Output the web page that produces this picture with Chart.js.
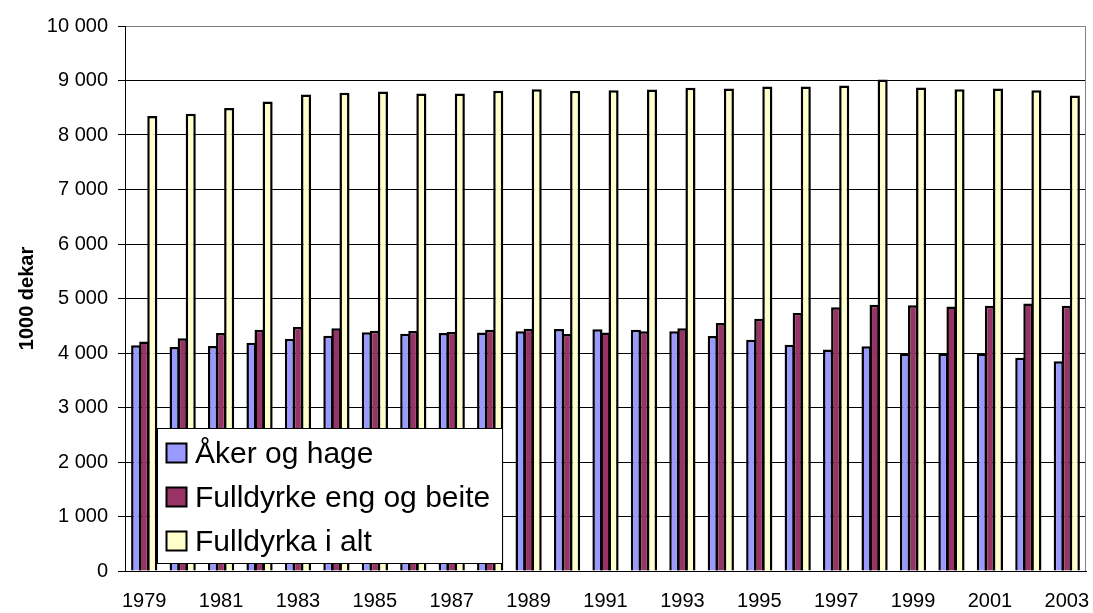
<!DOCTYPE html>
<html>
<head>
<meta charset="utf-8">
<script src="https://cdn.jsdelivr.net/npm/chart.js@4.4.1/dist/chart.umd.min.js"></script>
<style>
  html, body { margin: 0; padding: 0; background: #ffffff; }
  #wrap { width: 1093px; height: 613px; }
</style>
</head>
<body>
<div id="wrap"><canvas id="c" width="1093" height="613"></canvas></div>
<script>
// ---- data ----
const years = ['1979','1980','1981','1982','1983','1984','1985','1986','1987','1988','1989','1990','1991','1992','1993','1994','1995','1996','1997','1998','1999','2000','2001','2002','2003'];
const akerOgHage = [4140,4110,4130,4190,4260,4315,4380,4355,4365,4375,4400,4440,4435,4425,4400,4310,4245,4150,4065,4125,3990,3990,3990,3915,3850];
const fulldyrkeEngOgBeite = [4210,4270,4365,4425,4475,4455,4410,4405,4385,4425,4445,4350,4375,4400,4455,4550,4630,4735,4840,4885,4875,4855,4865,4910,4865];
const fulldyrkaIAlt = [8350,8390,8495,8615,8745,8775,8800,8760,8760,8810,8840,8810,8820,8835,8865,8855,8890,8890,8910,9020,8870,8840,8855,8820,8725];
const seriesNames = ['Åker og hage', 'Fulldyrke eng og beite', 'Fulldyrka i alt'];
const yAxisTitle = '1000 dekar';
const yMin = 0, yMax = 10000, yStep = 1000;

const FONT = "'Liberation Sans', Arial, Helvetica, sans-serif";

function fmtThousands(v) {
  return String(v).replace(/\B(?=(\d{3})+(?!\d))/g, ' ');
}

// Legend drawn inside the plot area (lower-left), opaque white box with black border
const insetLegend = {
  id: 'insetLegend',
  afterDatasetsDraw(chart, args, o) {
    const { ctx, chartArea } = chart;
    const ds = chart.data.datasets;
    ctx.save();
    ctx.font = o.fontSize + 'px ' + FONT;
    const maxW = Math.max(...ds.map(d => ctx.measureText(d.label).width));
    const w = o.textX + maxW + o.padRight;
    const h = o.firstRow + (ds.length - 1) * o.rowH + o.lastPad;
    const x0 = Math.round(chartArea.left + o.offsetLeft);
    const y0 = Math.round(chartArea.bottom - o.offsetBottom - h);
    ctx.fillStyle = '#ffffff';
    ctx.fillRect(x0, y0, Math.round(w), Math.round(h));
    ctx.strokeStyle = '#000000';
    ctx.lineWidth = 1;
    ctx.strokeRect(x0 + 0.5, y0 + 0.5, Math.round(w), Math.round(h));
    ds.forEach((d, i) => {
      const cy = y0 + o.firstRow + i * o.rowH;
      const sx = x0 + o.swatchX;
      ctx.fillStyle = d.backgroundColor;
      ctx.fillRect(sx, cy - o.swatchH / 2, o.swatchW, o.swatchH);
      ctx.lineWidth = 2;
      ctx.strokeStyle = '#000000';
      ctx.strokeRect(sx, cy - o.swatchH / 2, o.swatchW, o.swatchH);
      ctx.fillStyle = '#000000';
      ctx.textBaseline = 'alphabetic';
      ctx.textAlign = 'left';
      ctx.fillText(d.label, x0 + o.textX, cy + o.baselineShift);
    });
    ctx.restore();
  }
};

// Grey plot-area border on the right side
const plotBorder = {
  id: 'plotBorder',
  beforeDatasetsDraw(chart) {
    const { ctx, chartArea } = chart;
    ctx.save();
    ctx.strokeStyle = '#808080';
    ctx.lineWidth = 1;
    const x = Math.round(chartArea.right) - 0.5;
    ctx.beginPath();
    ctx.moveTo(x, chartArea.top);
    ctx.lineTo(x, chartArea.bottom);
    ctx.stroke();
    ctx.restore();
  }
};

const barCommon = {
  borderColor: '#000000',
  borderWidth: 2.5,
  categoryPercentage: 0.63,
  barPercentage: 1.25
};

new Chart(document.getElementById('c'), {
  type: 'bar',
  data: {
    labels: years,
    datasets: [
      Object.assign({ label: seriesNames[0], data: akerOgHage, backgroundColor: '#9999FF' }, barCommon),
      Object.assign({ label: seriesNames[1], data: fulldyrkeEngOgBeite, backgroundColor: '#993366' }, barCommon),
      Object.assign({ label: seriesNames[2], data: fulldyrkaIAlt, backgroundColor: '#FFFFCC' }, barCommon)
    ]
  },
  options: {
    responsive: false,
    animation: false,
    devicePixelRatio: 1,
    layout: { padding: { top: 26, right: 7, left: 0, bottom: 0 } },
    plugins: {
      legend: { display: false },
      tooltip: { enabled: false },
      insetLegend: {
        fontSize: 30, offsetLeft: 32, offsetBottom: 9, firstRow: 25, rowH: 44, lastPad: 21.5,
        swatchX: 9.5, swatchW: 20, swatchH: 19, textX: 38, padRight: 12, baselineShift: 9.5
      }
    },
    scales: {
      x: {
        grid: { display: false },
        border: { display: true, color: '#000000', width: 1 },
        ticks: {
          autoSkip: false, maxRotation: 0, minRotation: 0, padding: 10, color: '#000000',
          font: { family: FONT, size: 20 },
          callback: (v, i) => (i % 2 === 0 ? years[i] : '')
        },
        afterFit: s => { s.height = 42; s.paddingLeft = 0; s.paddingRight = 0; }
      },
      y: {
        min: yMin, max: yMax,
        ticks: {
          stepSize: yStep, padding: 10, color: '#000000',
          font: { family: FONT, size: 20 },
          callback: v => fmtThousands(v)
        },
        grid: {
          color: c => (c.tick && c.tick.value === yMax ? '#808080' : '#000000'),
          tickColor: '#000000', tickLength: 7, drawTicks: true, lineWidth: 1
        },
        border: { display: true, color: '#000000', width: 1 },
        title: {
          display: true, text: yAxisTitle, color: '#000000',
          font: { family: FONT, size: 20, weight: 'bold' },
          padding: { top: 15, bottom: 0 }
        },
        afterFit: s => { s.width = 125; }
      }
    }
  },
  plugins: [plotBorder, insetLegend]
});
</script>
</body>
</html>
